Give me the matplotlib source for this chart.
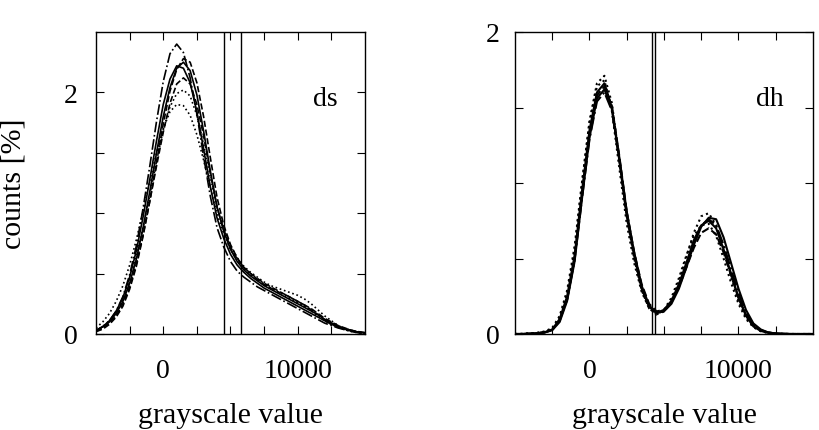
import numpy as np
import matplotlib
matplotlib.use("Agg")
import matplotlib.pyplot as plt

plt.rcParams['font.family'] = ['Liberation Serif', 'DejaVu Serif']

# ---------------- DATA ----------------
# grayscale grid shared by every curve (step 500)
gray = np.arange(-5000, 15001, 500)

# left panel "ds" curves (counts in %)
ds_a = [0.03, 0.06, 0.10, 0.17, 0.27, 0.42, 0.62, 0.88, 1.18, 1.50,
        1.80, 2.04, 2.20, 2.25, 2.18, 1.98, 1.68, 1.35, 1.05, 0.85,
        0.70, 0.60, 0.53, 0.48, 0.44, 0.40, 0.37, 0.34, 0.31, 0.28,
        0.25, 0.22, 0.19, 0.16, 0.12, 0.09, 0.065, 0.045, 0.03, 0.015, 0.01]
ds_b = [0.03, 0.06, 0.11, 0.19, 0.30, 0.47, 0.69, 0.97, 1.28, 1.60,
        1.90, 2.11, 2.22, 2.20, 2.08, 1.84, 1.53, 1.22, 0.96, 0.79,
        0.66, 0.57, 0.51, 0.46, 0.42, 0.38, 0.35, 0.32, 0.29, 0.26,
        0.23, 0.20, 0.17, 0.14, 0.11, 0.08, 0.06, 0.04, 0.025, 0.015, 0.01]
ds_c = [0.03, 0.06, 0.11, 0.19, 0.31, 0.49, 0.73, 1.04, 1.39, 1.76,
        2.09, 2.32, 2.40, 2.33, 2.12, 1.82, 1.47, 1.14, 0.88, 0.72,
        0.60, 0.52, 0.47, 0.43, 0.39, 0.36, 0.33, 0.30, 0.27, 0.24,
        0.21, 0.18, 0.15, 0.12, 0.09, 0.07, 0.05, 0.035, 0.02, 0.01, 0.005]
ds_d = [0.02, 0.04, 0.08, 0.14, 0.23, 0.37, 0.56, 0.81, 1.10, 1.42,
        1.74, 2.01, 2.19, 2.28, 2.25, 2.08, 1.80, 1.46, 1.13, 0.90,
        0.74, 0.63, 0.55, 0.50, 0.45, 0.41, 0.38, 0.35, 0.33, 0.30,
        0.27, 0.24, 0.20, 0.16, 0.12, 0.09, 0.06, 0.04, 0.025, 0.015, 0.01]
ds_e = [0.03, 0.06, 0.11, 0.18, 0.29, 0.44, 0.64, 0.88, 1.15, 1.43,
        1.69, 1.88, 1.99, 2.02, 1.97, 1.81, 1.57, 1.30, 1.05, 0.87,
        0.73, 0.63, 0.56, 0.51, 0.47, 0.43, 0.40, 0.38, 0.36, 0.34,
        0.32, 0.29, 0.25, 0.20, 0.15, 0.11, 0.07, 0.045, 0.03, 0.015, 0.01]
ds_f = [0.05, 0.10, 0.17, 0.27, 0.40, 0.57, 0.78, 1.02, 1.27, 1.50,
        1.70, 1.84, 1.90, 1.89, 1.81, 1.65, 1.44, 1.21, 0.99, 0.83,
        0.70, 0.61, 0.54, 0.49, 0.45, 0.41, 0.38, 0.35, 0.32, 0.29,
        0.26, 0.23, 0.19, 0.15, 0.11, 0.08, 0.055, 0.035, 0.02, 0.01, 0.005]
ds_g = [0.02, 0.05, 0.09, 0.15, 0.25, 0.39, 0.58, 0.82, 1.10, 1.39,
        1.67, 1.91, 2.07, 2.12, 2.07, 1.90, 1.64, 1.33, 1.05, 0.86,
        0.72, 0.62, 0.55, 0.50, 0.46, 0.42, 0.39, 0.36, 0.33, 0.30,
        0.27, 0.24, 0.21, 0.17, 0.13, 0.10, 0.07, 0.05, 0.03, 0.02, 0.01]

# right panel "dh" curves
dh_a = [0, 0, 0.003, 0.006, 0.012, 0.03, 0.10, 0.25, 0.52, 0.95,
        1.35, 1.60, 1.66, 1.50, 1.15, 0.78, 0.52, 0.30, 0.18, 0.14,
        0.16, 0.22, 0.33, 0.47, 0.62, 0.72, 0.75, 0.70, 0.56, 0.40,
        0.24, 0.12, 0.05, 0.02, 0.008, 0.003, 0.001, 0, 0, 0, 0]
dh_b = [0, 0, 0.002, 0.005, 0.010, 0.025, 0.08, 0.22, 0.48, 0.90,
        1.30, 1.56, 1.62, 1.49, 1.17, 0.81, 0.54, 0.32, 0.19, 0.14,
        0.15, 0.20, 0.30, 0.44, 0.59, 0.71, 0.77, 0.76, 0.64, 0.47,
        0.30, 0.16, 0.07, 0.03, 0.01, 0.004, 0.001, 0, 0, 0, 0]
dh_c = [0, 0.001, 0.003, 0.007, 0.015, 0.035, 0.11, 0.27, 0.56, 1.00,
        1.41, 1.66, 1.71, 1.53, 1.16, 0.78, 0.50, 0.29, 0.17, 0.13,
        0.15, 0.22, 0.35, 0.51, 0.67, 0.78, 0.80, 0.72, 0.56, 0.38,
        0.22, 0.11, 0.05, 0.02, 0.007, 0.002, 0.001, 0, 0, 0, 0]
dh_d = [0, 0, 0.002, 0.005, 0.011, 0.028, 0.09, 0.23, 0.50, 0.92,
        1.32, 1.58, 1.64, 1.51, 1.18, 0.81, 0.54, 0.33, 0.20, 0.15,
        0.16, 0.21, 0.31, 0.44, 0.57, 0.67, 0.70, 0.66, 0.54, 0.39,
        0.24, 0.13, 0.06, 0.025, 0.01, 0.003, 0.001, 0, 0, 0, 0]
dh_e = [0, 0.001, 0.004, 0.008, 0.017, 0.04, 0.12, 0.29, 0.58, 1.01,
        1.40, 1.64, 1.68, 1.48, 1.10, 0.73, 0.47, 0.28, 0.17, 0.13,
        0.16, 0.24, 0.37, 0.52, 0.65, 0.72, 0.73, 0.65, 0.50, 0.34,
        0.20, 0.10, 0.045, 0.018, 0.007, 0.002, 0.001, 0, 0, 0, 0]
dh_f = [0, 0, 0.002, 0.005, 0.011, 0.027, 0.09, 0.23, 0.49, 0.90,
        1.29, 1.54, 1.60, 1.48, 1.16, 0.80, 0.53, 0.31, 0.18, 0.14,
        0.15, 0.21, 0.32, 0.46, 0.61, 0.72, 0.76, 0.72, 0.59, 0.43,
        0.27, 0.14, 0.06, 0.025, 0.01, 0.003, 0.001, 0, 0, 0, 0]

ds_curves = [ds_a, ds_b, ds_c, ds_d, ds_e, ds_f, ds_g]
ds_styles = ['-', '-', '-.', '--', ':', ':', '--']
dh_curves = [dh_a, dh_b, dh_c, dh_d, dh_e, dh_f]
dh_styles = ['-', '-', ':', '--', ':', '-.']

# threshold lines
ds_thresholds = [4500, 5800]
dh_thresholds = [4200, 4400]

xtick_pos = [-2500, 0, 2500, 5000, 7500, 10000, 12500]
xtick_lab = ['', '0', '', '', '', '10000', '']
ytick_pos = [0, 0.5, 1, 1.5, 2]
ytick_lab = ['0', '', '', '', '2']

FS_TICK = 20
FS_LABEL = 21.5

# ---------------- PLOT ----------------
fig = plt.figure(figsize=(8.2, 4.31), dpi=100)
ax1 = fig.add_axes([96 / 820, 96 / 431, 269 / 820, 302 / 431])
ax2 = fig.add_axes([515 / 820, 96 / 431, 298 / 820, 302 / 431])

def style_axis(ax, ymax, label, ypad):
    ax.set_xlim(-5000, 15000)
    ax.set_ylim(0, ymax)
    ax.set_xticks(xtick_pos)
    ax.set_xticklabels(xtick_lab)
    ax.set_yticks(ytick_pos)
    ax.set_yticklabels(ytick_lab)
    ax.tick_params(direction='in', length=6, width=0.8, top=True, right=True,
                   labelsize=FS_TICK)
    ax.tick_params(axis='x', pad=17)
    ax.tick_params(axis='y', pad=ypad)
    for s in ax.spines.values():
        s.set_linewidth(1.0)
    ax.set_xlabel('grayscale value', fontsize=FS_LABEL)
    ax.xaxis.set_label_coords(0.5, -0.225)
    ax.text(0.9, 0.78, label, transform=ax.transAxes, fontsize=FS_TICK,
            ha='right', va='center')

for y, ls in zip(ds_curves, ds_styles):
    ax1.plot(gray, y, color='black', linestyle=ls, linewidth=1.2)
for t in ds_thresholds:
    ax1.axvline(t, color='black', linewidth=1.0)
style_axis(ax1, 2.5, 'ds', 13)
ax1.set_ylabel('counts [%]', fontsize=FS_LABEL)
ax1.yaxis.set_label_coords(-0.258, 0.5)

for y, ls in zip(dh_curves, dh_styles):
    ax2.plot(gray, y, color='black', linestyle=ls, linewidth=1.5)
for t in dh_thresholds:
    ax2.axvline(t, color='black', linewidth=1.0)
style_axis(ax2, 2.0, 'dh', 11)

fig.savefig('out.png', dpi=100)
